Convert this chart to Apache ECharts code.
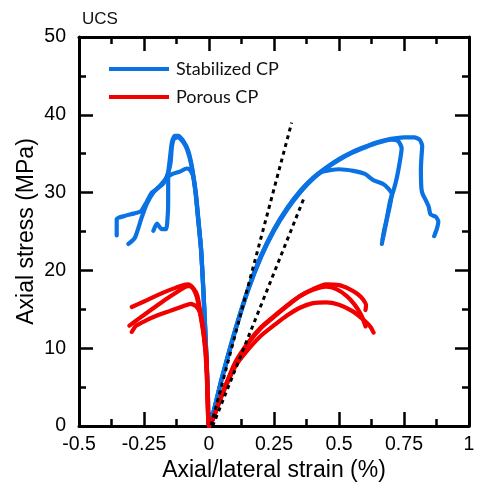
<!DOCTYPE html>
<html>
<head>
<meta charset="utf-8">
<script src="https://cdn.jsdelivr.net/npm/echarts@6/dist/echarts.min.js"></script>
<style>
  html, body { margin: 0; padding: 0; background: #fff; }
  #chart { width: 481px; height: 489px; }
</style>
</head>
<body>
<div id="chart"></div>
<script>
// Strain (%) vs stress (MPa). Lateral branches run from the origin to negative strain.
const xTicks = { min: -0.5, max: 1, interval: 0.25 };
const yTicks = { min: 0, max: 50, interval: 10 };

// Stabilized CP specimens
const stabAxialA = [[0,0],[0.05,6.3],[0.1,12.3],[0.15,17.6],[0.2,21.9],[0.25,25.3],[0.3,28.0],[0.35,30.2],[0.4,31.9],[0.45,33.2],[0.5,34.3],[0.55,35.2],[0.6,35.9],[0.65,36.5],[0.7,36.9],[0.75,37.1],[0.79,37.1],[0.81,36.8],[0.82,36.0],[0.817,34.5],[0.815,33.0],[0.817,30.5],[0.822,29.8],[0.834,29.0],[0.845,28.2],[0.852,27.2],[0.872,26.9],[0.882,26.3],[0.876,25.3],[0.866,24.4]];
const stabLateralA = [[0,0],[-0.004,3.5],[-0.01,9],[-0.02,16.5],[-0.03,22.5],[-0.04,26.3],[-0.05,29.8],[-0.065,33.2],[-0.08,35.4],[-0.1,36.7],[-0.118,37.3],[-0.132,37.3],[-0.143,36.4],[-0.15,34.5],[-0.158,32.5],[-0.175,31.2],[-0.2,30.5],[-0.22,30.0],[-0.24,28.8],[-0.262,27.6],[-0.29,27.3],[-0.325,27.0],[-0.355,26.6],[-0.355,24.5]];

const stabAxialB = [[0,0],[0.05,6.1],[0.1,12.1],[0.15,17.4],[0.2,21.7],[0.25,25.1],[0.3,27.8],[0.35,30.0],[0.4,31.8],[0.45,33.1],[0.5,34.2],[0.55,35.1],[0.6,35.8],[0.65,36.4],[0.7,36.8],[0.728,36.6],[0.741,35.7],[0.736,34.4],[0.723,32.0],[0.71,30.3],[0.697,29.0],[0.682,26.4],[0.672,24.9],[0.665,23.4]];
const stabLateralB = [[0,0],[-0.004,3.8],[-0.011,9.5],[-0.021,17],[-0.031,22.8],[-0.042,26.6],[-0.052,30.0],[-0.067,33.4],[-0.085,35.6],[-0.102,36.6],[-0.12,37.1],[-0.135,36.9],[-0.143,35.8],[-0.148,33.8],[-0.163,32.0],[-0.188,30.9],[-0.214,30.0],[-0.24,28.5],[-0.259,26.8],[-0.285,24.2],[-0.31,23.4]];

const stabAxialC = [[0,0],[0.05,6.2],[0.1,12.2],[0.15,17.5],[0.2,21.8],[0.25,25.2],[0.3,27.9],[0.35,30.1],[0.4,31.8],[0.43,32.6],[0.47,32.9],[0.5,33.0],[0.555,32.8],[0.6,32.4],[0.632,31.6],[0.67,31.1],[0.69,30.5],[0.703,29.8],[0.695,28.2],[0.683,26.4],[0.674,24.9],[0.668,24.0]];
const stabLateralC = [[0,0],[-0.004,3.6],[-0.01,9.2],[-0.021,16.8],[-0.03,22.6],[-0.041,26.4],[-0.051,29.9],[-0.062,32.2],[-0.075,33.0],[-0.086,33.1],[-0.112,32.7],[-0.14,32.4],[-0.157,32.0],[-0.157,29.5],[-0.158,27.5],[-0.165,25.3],[-0.182,25.3],[-0.2,26.0],[-0.214,25.1]];

// Porous CP specimens
const porAxialA = [[0,0],[0.05,4.0],[0.1,8.0],[0.15,10.6],[0.2,12.6],[0.26,14.3],[0.3,15.4],[0.35,16.7],[0.4,17.6],[0.45,18.2],[0.5,18.1],[0.54,17.6],[0.57,17.0],[0.592,16.3],[0.604,15.5],[0.602,14.9]];
const porLateralA = [[0,0],[-0.003,0.8],[-0.009,8.5],[-0.02,12.0],[-0.035,15.0],[-0.045,16.8],[-0.06,17.7],[-0.08,18.2],[-0.1,18.1],[-0.15,17.5],[-0.2,16.8],[-0.25,16.0],[-0.297,15.3]];

const porAxialB = [[0,0],[0.05,4.1],[0.1,8.1],[0.15,10.7],[0.2,12.7],[0.26,14.4],[0.3,15.5],[0.35,16.7],[0.4,17.5],[0.45,17.9],[0.49,17.6],[0.53,16.7],[0.56,15.6],[0.585,14.3],[0.598,13.2],[0.602,12.8]];
const porLateralB = [[0,0],[-0.003,0.8],[-0.01,8.3],[-0.021,11.8],[-0.036,14.8],[-0.047,16.6],[-0.06,17.6],[-0.075,18.0],[-0.09,17.9],[-0.12,17.3],[-0.17,16.2],[-0.22,15.0],[-0.27,13.8],[-0.306,12.9]];

const porAxialC = [[0,0],[0.05,4.0],[0.1,7.6],[0.15,9.8],[0.2,11.6],[0.26,13.2],[0.3,14.2],[0.35,15.2],[0.4,15.8],[0.45,15.9],[0.5,15.6],[0.55,14.8],[0.6,13.5],[0.622,12.7],[0.633,12.0]];
const porLateralC = [[0,0],[-0.003,1],[-0.008,6],[-0.015,10],[-0.025,13.0],[-0.035,14.6],[-0.05,15.4],[-0.07,15.7],[-0.1,15.4],[-0.15,14.8],[-0.2,14.2],[-0.24,13.6],[-0.28,12.9],[-0.297,12.1]];

// Reference moduli
const modulusSteep = [[0.008,0.1],[0.318,39.0]];
const modulusShallow = [[0.014,0],[0.369,29.6]];

const legendNames = ['Stabilized CP', 'Porous CP'];
const blue = '#0a72e2';
const red = '#f20000';

// join a lateral branch (origin -> far end) with its axial branch into one path
function specimen(lateral, axial) {
  return lateral.slice().reverse().concat(axial.slice(1));
}

function curve(name, color, data) {
  return {
    name: name, type: 'line', data: data, showSymbol: false, smooth: 0.2,
    lineStyle: { color: color, width: 4.2, cap: 'round', join: 'round' },
    itemStyle: { color: color }, silent: true
  };
}
function dotted(data) {
  return {
    type: 'line', data: data, showSymbol: false, silent: true, z: 5,
    lineStyle: { color: '#000', width: 3, type: [4, 4] }
  };
}

function frameAxis(extra, ticks) {
  return Object.assign({
    type: 'value', min: ticks.min, max: ticks.max, interval: ticks.interval,
    axisLine: { show: true, onZero: false, lineStyle: { color: '#000', width: 3 } },
    axisTick: { show: true, inside: true, length: 14, lineStyle: { color: '#000', width: 2.5 } },
    minorTick: { show: true, splitNumber: 2, length: 7, lineStyle: { color: '#000', width: 2.5 } },
    splitLine: { show: false },
    axisLabel: { show: false }
  }, extra);
}

const chart = echarts.init(document.getElementById('chart'), null, { renderer: 'canvas' });
chart.setOption({
  animation: false,
  backgroundColor: '#fff',
  title: {
    text: 'UCS', left: 77, top: 6,
    textStyle: { fontFamily: 'Liberation Sans', fontSize: 17, fontWeight: 'normal', color: '#111' }
  },
  legend: {
    data: legendNames, orient: 'vertical', left: 109, top: 58, padding: 0,
    icon: 'rect', itemWidth: 60, itemHeight: 4, itemGap: 6, selectedMode: false,
    textStyle: { fontFamily: 'Lato', fontSize: 18, color: '#111', lineHeight: 22, padding: [0, 0, 0, 2] }
  },
  grid: { left: 79, right: 12, top: 37, bottom: 63 },
  xAxis: [
    frameAxis({
      position: 'bottom',
      name: 'Axial/lateral strain (%)', nameLocation: 'middle', nameGap: 33, nameMoveOverlap: false,
      nameTextStyle: { fontFamily: 'Liberation Sans', fontSize: 23, color: '#000' },
      axisLabel: { show: true, margin: 9, fontFamily: 'Liberation Sans', fontSize: 19.5, color: '#000' }
    }, xTicks),
    frameAxis({ position: 'top' }, xTicks)
  ],
  yAxis: [
    frameAxis({
      position: 'left',
      name: 'Axial stress (MPa)', nameLocation: 'middle', nameGap: 41, nameMoveOverlap: false,
      nameTextStyle: { fontFamily: 'Liberation Sans', fontSize: 23, color: '#000' },
      axisLabel: { show: true, margin: 13, fontFamily: 'Liberation Sans', fontSize: 19.5, color: '#000' }
    }, yTicks),
    frameAxis({ position: 'right' }, yTicks)
  ],
  series: [
    curve(legendNames[0], blue, specimen(stabLateralA, stabAxialA)),
    curve(legendNames[0], blue, specimen(stabLateralB, stabAxialB)),
    curve(legendNames[0], blue, specimen(stabLateralC, stabAxialC)),
    curve(legendNames[1], red, specimen(porLateralA, porAxialA)),
    curve(legendNames[1], red, specimen(porLateralB, porAxialB)),
    curve(legendNames[1], red, specimen(porLateralC, porAxialC)),
    dotted(modulusSteep),
    dotted(modulusShallow)
  ]
});
</script>
</body>
</html>
